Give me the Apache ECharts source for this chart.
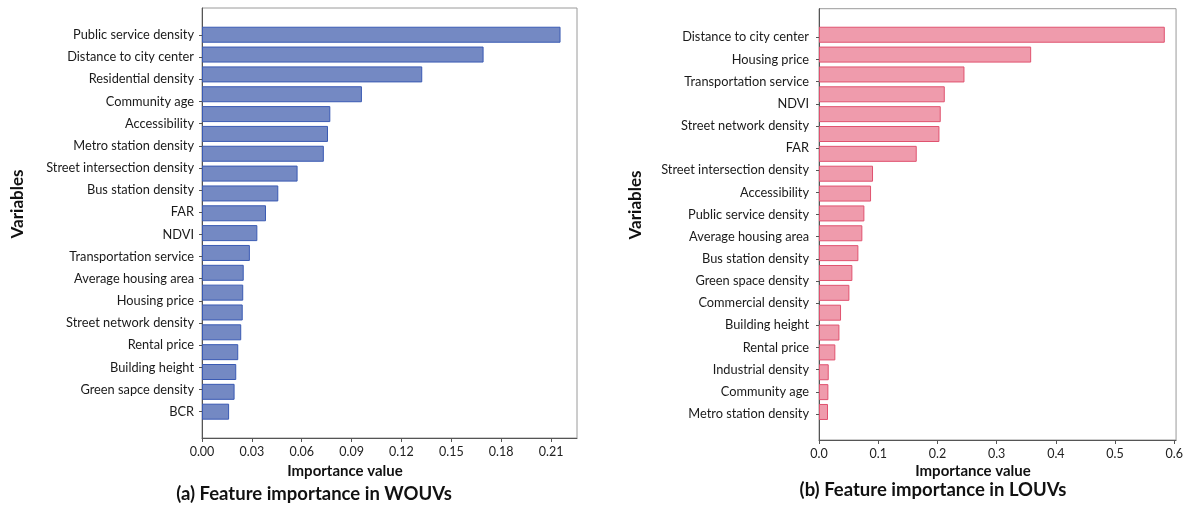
<!DOCTYPE html>
<html>
<head>
<meta charset="utf-8">
<script src="https://cdn.jsdelivr.net/npm/echarts@6/dist/echarts.min.js"></script>
<style>
  html, body { margin: 0; padding: 0; background: #fff; }
  #chart { width: 1186px; height: 511px; }
</style>
</head>
<body>
<div id="chart"></div>
<script>
// Panel (a): WOUVs — variable names on the axis and bar values (top to bottom)
const wouvLabels = [
  'Public service density', 'Distance to city center', 'Residential density',
  'Community age', 'Accessibility', 'Metro station density',
  'Street intersection density', 'Bus station density', 'FAR', 'NDVI',
  'Transportation service', 'Average housing area', 'Housing price',
  'Street network density', 'Rental price', 'Building height',
  'Green sapce density', 'BCR'
];
const wouvValues = [
  0.2157, 0.1694, 0.1325, 0.0962, 0.0772, 0.0758, 0.0733, 0.0575, 0.0459, 0.0385,
  0.0333, 0.0288, 0.0251, 0.0248, 0.0245, 0.0236, 0.0218, 0.0206, 0.0196, 0.0163
];
const wouvTicks = [0.00, 0.03, 0.06, 0.09, 0.12, 0.15, 0.18, 0.21];

// Panel (b): LOUVs
const louvLabels = [
  'Distance to city center', 'Housing price', 'Transportation service', 'NDVI',
  'Street network density', 'FAR', 'Street intersection density', 'Accessibility',
  'Public service density', 'Average housing area', 'Bus station density',
  'Green space density', 'Commercial density', 'Building height', 'Rental price',
  'Industrial density', 'Community age', 'Metro station density'
];
const louvValues = [
  0.576, 0.3534, 0.2423, 0.2095, 0.2028, 0.2006, 0.1628, 0.0900, 0.0867, 0.0756,
  0.0722, 0.0656, 0.0556, 0.0506, 0.0367, 0.0340, 0.0272, 0.0162, 0.0156, 0.0150
];
const louvTicks = [0.0, 0.1, 0.2, 0.3, 0.4, 0.5, 0.6];

const FONT = 'Lato, "Open Sans", sans-serif';
const chart = echarts.init(document.getElementById('chart'), null, { renderer: 'canvas' });

// Builds the three stacked grids of one panel: frame with the value axis,
// the bar band, and the variable-name band.
function panel(o) {
  const step = o.ticks[1] - o.ticks[0];
  const grids = [
    { left: o.left, top: o.top, width: o.width, height: o.height,
      show: true, borderColor: '#9a9a9a', borderWidth: 1 },
    { left: o.left, top: o.barTop, width: o.width, height: o.barBottom - o.barTop },
    { left: o.left, top: o.labTop, width: o.width, height: o.labBottom - o.labTop }
  ];
  const g0 = o.gridBase;
  const xAxes = [
    { gridIndex: g0, type: 'value', min: o.ticks[0], max: o.max, interval: step,
      axisLine: { show: true, lineStyle: { color: '#555', width: 1 } },
      axisTick: { show: true, length: 4, lineStyle: { color: '#555' } },
      splitLine: { show: false },
      axisLabel: { show: true, showMaxLabel: false, color: '#222', fontFamily: FONT,
        fontSize: 12.5, margin: 7,
        formatter: v => o.ticks.some(t => Math.abs(t - v) < 1e-9) ? v.toFixed(o.digits) : '' } },
    { gridIndex: g0 + 1, type: 'value', min: o.ticks[0], max: o.max, show: false },
    { gridIndex: g0 + 2, type: 'value', min: o.ticks[0], max: o.max, show: false }
  ];
  const yAxes = [
    { gridIndex: g0, type: 'value', min: 0, max: 1,
      axisLine: { show: true, lineStyle: { color: '#555', width: 1 } },
      axisTick: { show: false }, axisLabel: { show: false }, splitLine: { show: false } },
    { gridIndex: g0 + 1, type: 'category', inverse: true, show: false,
      data: o.values.map((_, i) => i + 1) },
    { gridIndex: g0 + 2, type: 'category', inverse: true, boundaryGap: false,
      data: o.labels,
      axisLine: { show: false },
      axisTick: { show: true, length: 3, alignWithLabel: true, lineStyle: { color: '#555' } },
      axisLabel: { color: '#1a1a1a', fontFamily: FONT, fontSize: 12.8, margin: o.labMargin } }
  ];
  const series = [{
    type: 'bar', xAxisIndex: g0 + 1, yAxisIndex: g0 + 1,
    data: o.values, barWidth: 16, silent: true,
    itemStyle: { color: o.fill, borderColor: o.stroke, borderWidth: 1 }
  }];
  return { grids, xAxes, yAxes, series };
}

const pa = panel({
  gridBase: 0, left: 202, top: 8, width: 375, height: 430,
  barTop: 24.8, barBottom: 421.6, labTop: 35, labBottom: 411.7, labMargin: 8,
  max: 0.2256, ticks: wouvTicks, digits: 2,
  values: wouvValues, labels: wouvLabels, fill: '#7489c3', stroke: '#3a5ab3'
});
const pb = panel({
  gridBase: 3, left: 819, top: 8.7, width: 362, height: 431.3,
  barTop: 24.8, barBottom: 421.9, labTop: 37.3, labBottom: 414, labMargin: 10,
  max: 0.603, ticks: louvTicks, digits: 1,
  values: louvValues, labels: louvLabels, fill: '#ef9bac', stroke: '#e0526f'
});

function txt(x, y, text, size, rotation) {
  return { type: 'text', x: x, y: y, rotation: rotation || 0,
    style: { text: text, font: 'bold ' + size + 'px ' + FONT, fill: '#111',
      textAlign: 'center', textVerticalAlign: 'middle' } };
}

chart.setOption({
  animation: false,
  backgroundColor: '#fff',
  grid: pa.grids.concat(pb.grids),
  xAxis: pa.xAxes.concat(pb.xAxes),
  yAxis: pa.yAxes.concat(pb.yAxes),
  series: pa.series.concat(pb.series),
  graphic: [
    txt(345, 471, 'Importance value', 15),
    txt(973, 471, 'Importance value', 15),
    txt(314, 494, '(a) Feature importance in WOUVs', 18.5),
    txt(933, 490, '(b) Feature importance in LOUVs', 18.5),
    txt(18, 204, 'Variables', 17, Math.PI / 2),
    txt(636, 205, 'Variables', 17, Math.PI / 2)
  ]
});
</script>
</body>
</html>
